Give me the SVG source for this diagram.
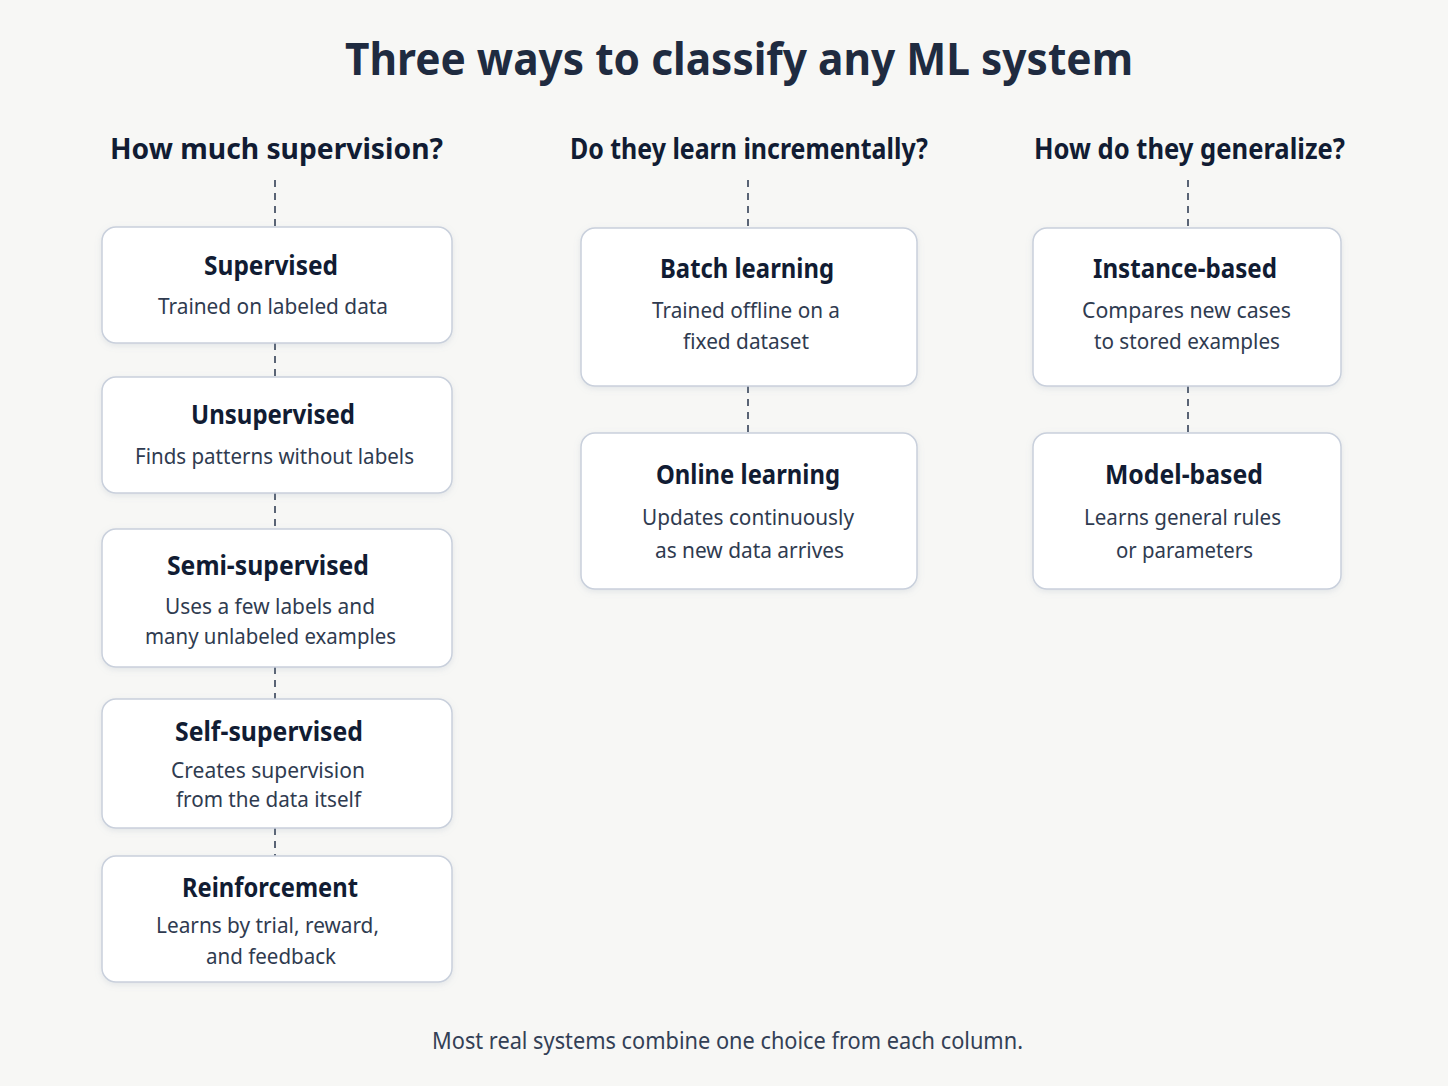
<svg xmlns="http://www.w3.org/2000/svg" width="1448" height="1086" viewBox="0 0 1448 1086">
<style>
text{font-family:"Noto Sans","Liberation Sans",sans-serif;text-anchor:middle}
.title{font-weight:700;font-size:44px;fill:#1f2b40}
.head{font-weight:700;font-size:29px;fill:#111c33}
.bt{font-weight:700;font-size:27px;fill:#111c33}
.bs{font-size:22px;fill:#2f3b50}
.foot{font-size:23px;fill:#334055}
.box{fill:#ffffff;stroke:#c9d0dc;stroke-width:1.5;filter:url(#sh)}
.conn{stroke:#5a6475;stroke-width:2;stroke-dasharray:7 6;fill:none}
</style>
<defs>
<filter id="sh" x="-10%" y="-10%" width="120%" height="130%">
<feDropShadow dx="0" dy="2" stdDeviation="3" flood-color="#8090a8" flood-opacity="0.18"/>
</filter>
</defs>
<rect width="1448" height="1086" fill="#f7f7f5"/>
<text class="title" x="739" y="75" textLength="788" lengthAdjust="spacingAndGlyphs">Three ways to classify any ML system</text>
<text class="head" x="276.5" y="159" textLength="333" lengthAdjust="spacingAndGlyphs">How much supervision?</text>
<text class="head" x="749" y="159" textLength="358" lengthAdjust="spacingAndGlyphs">Do they learn incrementally?</text>
<text class="head" x="1189.5" y="159" textLength="311" lengthAdjust="spacingAndGlyphs">How do they generalize?</text>
<g id="connectors">
<line class="conn" x1="275" y1="180" x2="275" y2="227"/>
<line class="conn" x1="275" y1="343" x2="275" y2="377"/>
<line class="conn" x1="275" y1="493" x2="275" y2="529"/>
<line class="conn" x1="275" y1="667" x2="275" y2="699"/>
<line class="conn" x1="275" y1="828" x2="275" y2="856"/>
<line class="conn" x1="748" y1="180" x2="748" y2="228"/>
<line class="conn" x1="748" y1="386" x2="748" y2="433"/>
<line class="conn" x1="1188" y1="180" x2="1188" y2="228"/>
<line class="conn" x1="1188" y1="386" x2="1188" y2="433"/>
</g>
<g id="supervised">
<rect class="box" x="102" y="227" width="350" height="116" rx="14"/>
<text class="bt" x="271" y="275" textLength="134" lengthAdjust="spacingAndGlyphs">Supervised</text>
<text class="bs" x="273" y="314" textLength="230" lengthAdjust="spacingAndGlyphs">Trained on labeled data</text>
</g>
<g id="unsupervised">
<rect class="box" x="102" y="377" width="350" height="116" rx="14"/>
<text class="bt" x="273" y="424" textLength="164" lengthAdjust="spacingAndGlyphs">Unsupervised</text>
<text class="bs" x="274.5" y="464" textLength="279" lengthAdjust="spacingAndGlyphs">Finds patterns without labels</text>
</g>
<g id="semi">
<rect class="box" x="102" y="529" width="350" height="138" rx="14"/>
<text class="bt" x="268" y="575" textLength="202" lengthAdjust="spacingAndGlyphs">Semi-supervised</text>
<text class="bs" x="270" y="614" textLength="210" lengthAdjust="spacingAndGlyphs">Uses a few labels and</text>
<text class="bs" x="270.5" y="644" textLength="251" lengthAdjust="spacingAndGlyphs">many unlabeled examples</text>
</g>
<g id="self">
<rect class="box" x="102" y="699" width="350" height="129" rx="14"/>
<text class="bt" x="269" y="741" textLength="188" lengthAdjust="spacingAndGlyphs">Self-supervised</text>
<text class="bs" x="268" y="778" textLength="194" lengthAdjust="spacingAndGlyphs">Creates supervision</text>
<text class="bs" x="268.5" y="807" textLength="185" lengthAdjust="spacingAndGlyphs">from the data itself</text>
</g>
<g id="reinforcement">
<rect class="box" x="102" y="856" width="350" height="126" rx="14"/>
<text class="bt" x="270" y="897" textLength="176" lengthAdjust="spacingAndGlyphs">Reinforcement</text>
<text class="bs" x="267.5" y="933" textLength="223" lengthAdjust="spacingAndGlyphs">Learns by trial, reward,</text>
<text class="bs" x="271" y="964" textLength="130" lengthAdjust="spacingAndGlyphs">and feedback</text>
</g>
<g id="batch">
<rect class="box" x="581" y="228" width="336" height="158" rx="14"/>
<text class="bt" x="747" y="278" textLength="174" lengthAdjust="spacingAndGlyphs">Batch learning</text>
<text class="bs" x="746" y="318" textLength="188" lengthAdjust="spacingAndGlyphs">Trained offline on a</text>
<text class="bs" x="746" y="349" textLength="126" lengthAdjust="spacingAndGlyphs">fixed dataset</text>
</g>
<g id="online">
<rect class="box" x="581" y="433" width="336" height="156" rx="14"/>
<text class="bt" x="748" y="484" textLength="184" lengthAdjust="spacingAndGlyphs">Online learning</text>
<text class="bs" x="748" y="525" textLength="212" lengthAdjust="spacingAndGlyphs">Updates continuously</text>
<text class="bs" x="749.5" y="558" textLength="189" lengthAdjust="spacingAndGlyphs">as new data arrives</text>
</g>
<g id="instance">
<rect class="box" x="1033" y="228" width="308" height="158" rx="14"/>
<text class="bt" x="1185" y="278" textLength="184" lengthAdjust="spacingAndGlyphs">Instance-based</text>
<text class="bs" x="1186.5" y="318" textLength="209" lengthAdjust="spacingAndGlyphs">Compares new cases</text>
<text class="bs" x="1187" y="349" textLength="186" lengthAdjust="spacingAndGlyphs">to stored examples</text>
</g>
<g id="model">
<rect class="box" x="1033" y="433" width="308" height="156" rx="14"/>
<text class="bt" x="1184" y="484" textLength="158" lengthAdjust="spacingAndGlyphs">Model-based</text>
<text class="bs" x="1182.5" y="525" textLength="197" lengthAdjust="spacingAndGlyphs">Learns general rules</text>
<text class="bs" x="1184.5" y="558" textLength="137" lengthAdjust="spacingAndGlyphs">or parameters</text>
</g>
<text class="foot" x="727.5" y="1049" textLength="591" lengthAdjust="spacingAndGlyphs">Most real systems combine one choice from each column.</text>
</svg>
